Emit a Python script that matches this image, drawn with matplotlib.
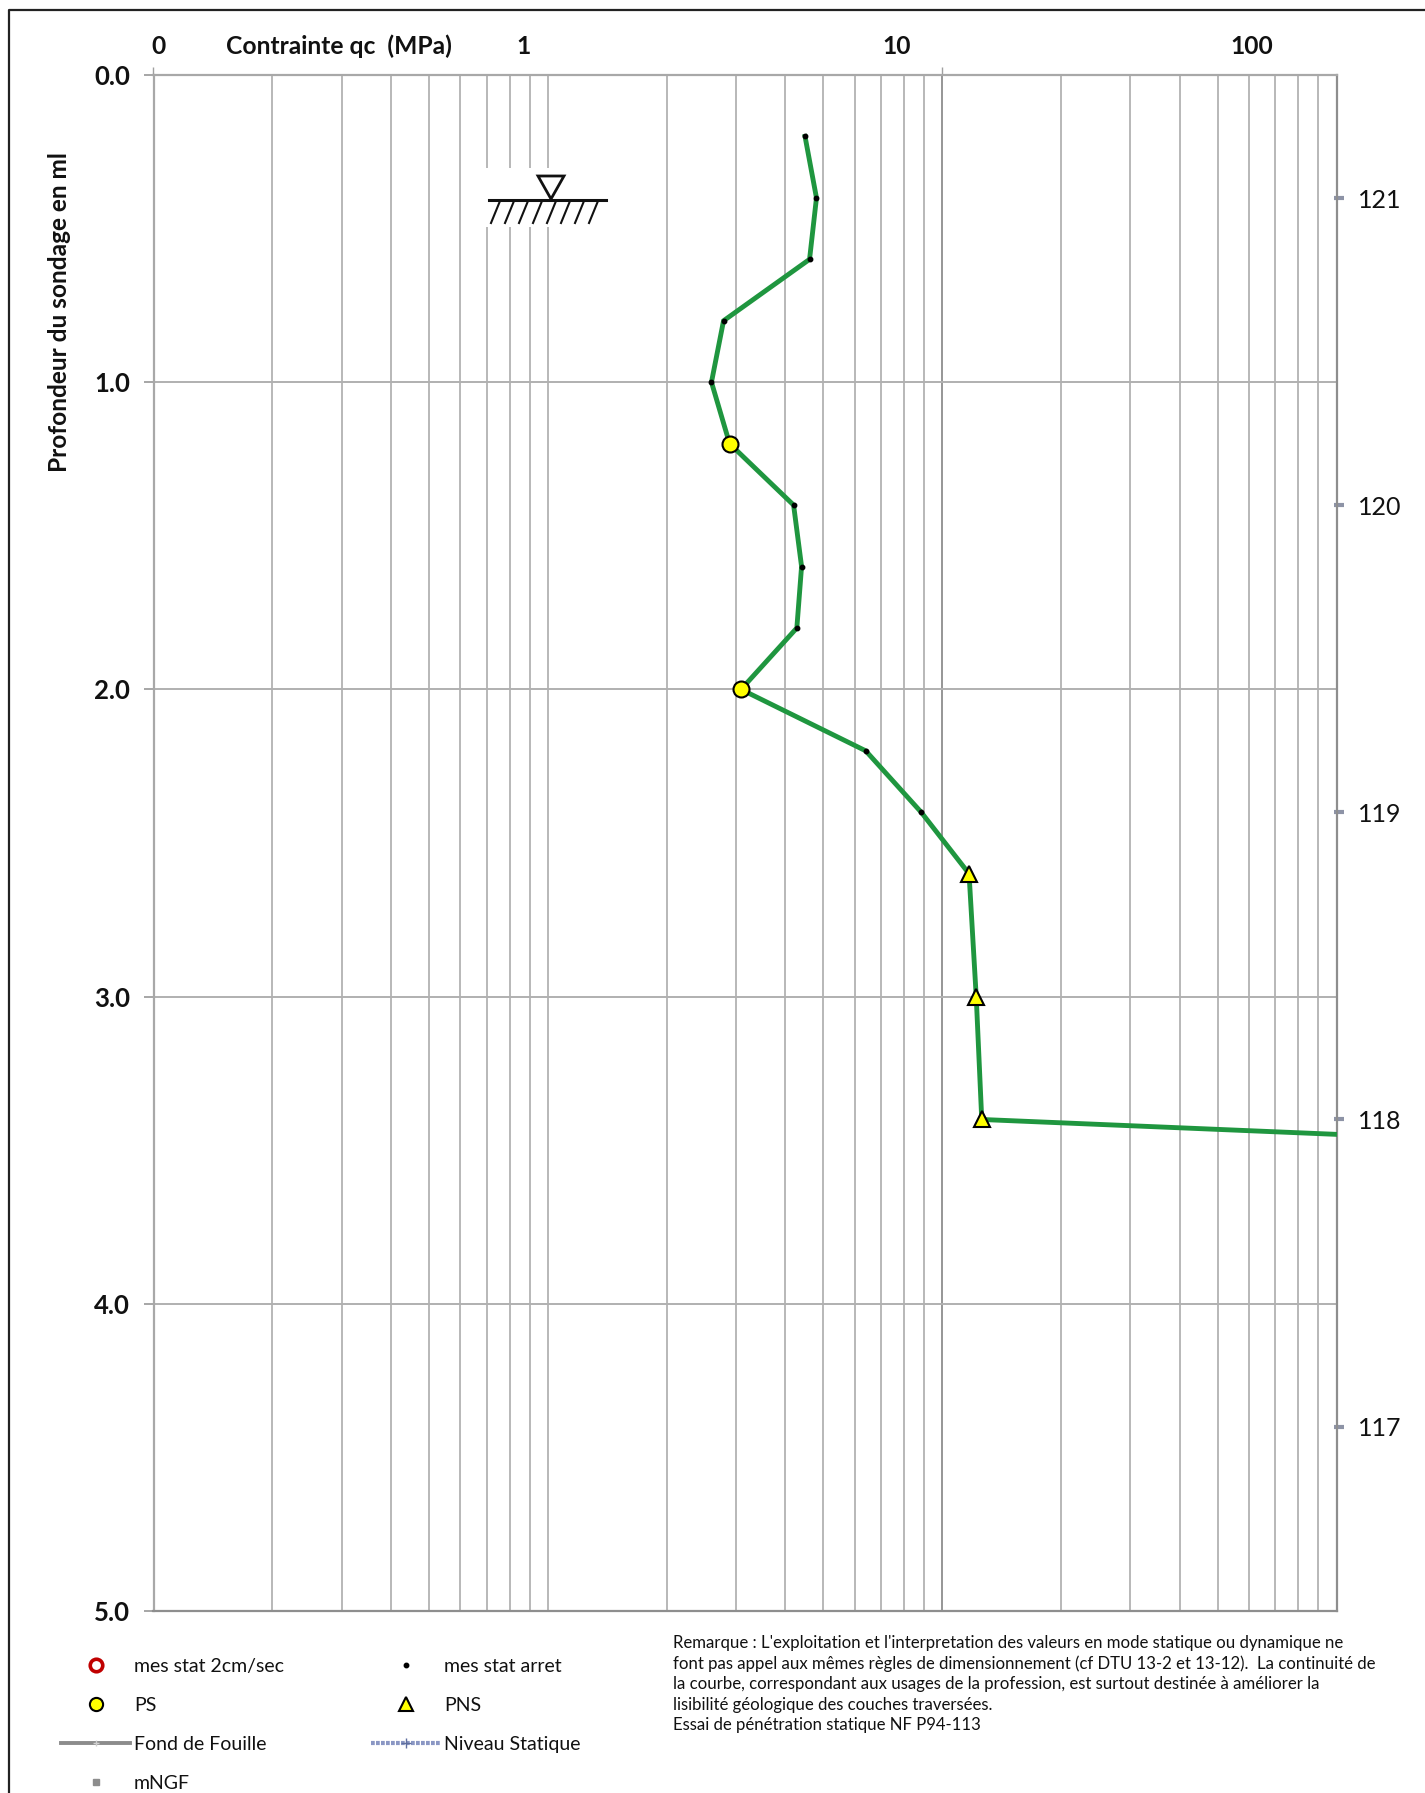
import matplotlib
matplotlib.use('Agg')
import matplotlib.pyplot as plt
from matplotlib.lines import Line2D
from matplotlib.patches import Polygon, Rectangle
from matplotlib.ticker import FixedLocator, NullFormatter
from matplotlib.transforms import Affine2D, blended_transform_factory

W, H = 1425, 1793

# mesures (profondeur en m, qc en MPa)
depth = [0.2, 0.4, 0.6, 0.8, 1.0, 1.2, 1.4, 1.6, 1.8, 2.0, 2.2, 2.4, 2.6, 3.0, 3.4, 3.6]
qc = [4.49, 4.80, 4.61, 2.79, 2.60, 2.89, 4.20, 4.40, 4.28, 3.09, 6.40, 8.85, 11.7, 12.2, 12.6, 65000]
arret_depth = [0.2, 0.4, 0.6, 0.8, 1.0, 1.4, 1.6, 1.8, 2.2, 2.4]
arret_qc = [4.49, 4.80, 4.61, 2.79, 2.60, 4.20, 4.40, 4.28, 6.40, 8.85]
ps_depth = [1.2, 2.0]
ps_qc = [2.89, 3.09]
pns_depth = [2.6, 3.0, 3.4]
pns_qc = [11.7, 12.2, 12.6]
ngf_depth = [0.4, 1.4, 2.4, 3.4, 4.4]
ngf_labels = ['121', '120', '119', '118', '117']

depth_ticks = [0, 1, 2, 3, 4, 5]
x_major = [0.1, 10]
x_minor = [0.2, 0.3, 0.4, 0.5, 0.6, 0.7, 0.8, 0.9, 1,
           2, 3, 4, 5, 6, 7, 8, 9,
           20, 30, 40, 50, 60, 70, 80, 90]

remarque = [
    "Remarque : L'exploitation et l'interpretation des valeurs en mode statique ou dynamique ne",
    "font pas appel aux mêmes règles de dimensionnement (cf DTU 13-2 et 13-12).  La continuité de",
    "la courbe, correspondant aux usages de la profession, est surtout destinée à améliorer la",
    "lisibilité géologique des couches traversées.",
    "Essai de pénétration statique NF P94-113",
]

plt.rcParams['font.family'] = ['Lato', 'DejaVu Sans']

fig = plt.figure(figsize=(W / 100, H / 100), dpi=100, facecolor='white')
px = Affine2D().scale(1 / W, -1 / H).translate(0, 1) + fig.transFigure

ax = fig.add_axes([153.5 / W, 1 - 1611 / H, (1336.5 - 153.5) / W, (1611 - 75) / H])
ax.set_xscale('log')
ax.set_xlim(0.1, 100)
ax.set_ylim(5, 0)
ax.set_axisbelow(True)

ax.xaxis.tick_top()
ax.xaxis.set_major_locator(FixedLocator(x_major))
ax.xaxis.set_minor_locator(FixedLocator(x_minor))
ax.xaxis.set_major_formatter(NullFormatter())
ax.xaxis.set_minor_formatter(NullFormatter())
ax.tick_params(axis='x', which='major', length=6, width=1, color='#a0a0a0')
ax.tick_params(axis='x', which='minor', length=0)
ax.grid(True, axis='x', which='minor', color='#b8b8b8', lw=1.4)
ax.grid(True, axis='x', which='major', color='#969696', lw=1.4)
ax.grid(True, axis='y', which='major', color='#b0b0b0', lw=1.4)

ax.set_yticks(depth_ticks)
ax.set_yticklabels([f'{d:.1f}' for d in depth_ticks], fontsize=18.5, fontweight='bold', color='#111111')
ax.tick_params(axis='y', length=7, width=1.4, color='#a6a6a6', pad=10)

for name, color in [('top', '#a8a8a8'), ('left', '#a8a8a8'), ('bottom', '#8e8e8e'), ('right', '#8e8e8e')]:
    ax.spines[name].set_color(color)
    ax.spines[name].set_linewidth(1.6)

ax.plot(qc, depth, color='#1f963f', lw=3.5, solid_joinstyle='miter', zorder=3)
ax.plot(arret_qc, arret_depth, ls='none', marker='o', ms=3.2, color='black', zorder=4)
ax.plot(ps_qc, ps_depth, ls='none', marker='o', ms=11.5, mfc='#ffff00', mec='black', mew=1.5, zorder=5)
ax.plot(pns_qc, pns_depth, ls='none', marker='^', ms=12, mfc='#ffff00', mec='black', mew=1.5, zorder=5)

# echelle mNGF a droite
right = blended_transform_factory(ax.transAxes, ax.transData)
ax.plot([1.0025] * len(ngf_depth), ngf_depth, ls='none', marker='_', ms=7.5, mew=3, color='#8d93a6',
        transform=right, clip_on=False)
for d, lab in zip(ngf_depth, ngf_labels):
    ax.text(1.0185, d + 0.007, lab, transform=right, fontsize=18, color='#111111', va='center', ha='left')

# textes du haut
for x, lab in [(159, '0'), (338.5, 'Contrainte qc  (MPa)'), (524, '1'), (897, '10'), (1252, '100')]:
    fig.text(x, 46, lab, transform=px, fontsize=17.7, fontweight='bold', color='#111111',
             ha='center', va='center')
fig.text(60, 312, 'Profondeur du sondage en ml', transform=px, fontsize=17.6, fontweight='bold',
         color='#111111', rotation=90, ha='center', va='center')

# cadre
fig.add_artist(Line2D([9, 9, W], [H, 9.5, 9.5], transform=px, color='#222222', lw=1.6))

# symbole terrain naturel
fig.add_artist(Rectangle((484, 168), 124, 59, transform=px, fc='white', ec='none', zorder=6))
fig.add_artist(Line2D([489, 606], [200, 200], transform=px, color='#111111', lw=2.2, zorder=7))
fig.add_artist(Polygon([(538, 176), (564, 176), (551, 199)], closed=True, transform=px,
                       fc='white', ec='#111111', lw=2, zorder=7))
for x0 in [500, 514, 528, 542, 556, 570, 584, 598]:
    fig.add_artist(Line2D([x0, x0 - 9], [201, 223], transform=px, color='#111111', lw=1.5, zorder=7))

# legende
handles = [
    Line2D([], [], ls='none', marker='o', ms=9, mfc='white', mec='#c00000', mew=2.6),
    Line2D([], [], ls='none', marker='o', ms=9.5, mfc='#ffff00', mec='black', mew=1.5),
    Line2D([], [], color='#8c8c8c', lw=2.8, marker='+', ms=5, mec='#cfcfcf'),
    Line2D([], [], ls='none', marker='s', ms=4, color='#8d8d8d'),
    Line2D([], [], ls='none', marker='o', ms=3.2, color='black'),
    Line2D([], [], ls='none', marker='^', ms=9.5, mfc='#ffff00', mec='black', mew=1.5),
    Line2D([], [], color='#8a97c4', lw=3, ls=(0, (0.9, 0.3)), marker='+', ms=7, mec='#5f6f9f'),
]
labels = ['mes stat 2cm/sec', 'PS', 'Fond de Fouille', 'mNGF',
          'mes stat arret', 'PNS', 'Niveau Statique']
fig.legend(handles, labels, ncol=2, loc='upper left', bbox_to_anchor=(61 / W, 1 - 1658 / H),
           bbox_transform=fig.transFigure, frameon=False, fontsize=14, borderpad=0, borderaxespad=0,
           handlelength=3.55, handletextpad=0.2, columnspacing=4.5, labelspacing=1.13,
           labelcolor='#111111', numpoints=1)

# remarque
for i, line in enumerate(remarque):
    fig.text(673.5, 1643 + i * 20.6, line, transform=px, fontsize=12.1, color='#111111',
             ha='left', va='center')

fig.savefig('out.png', dpi=100)
